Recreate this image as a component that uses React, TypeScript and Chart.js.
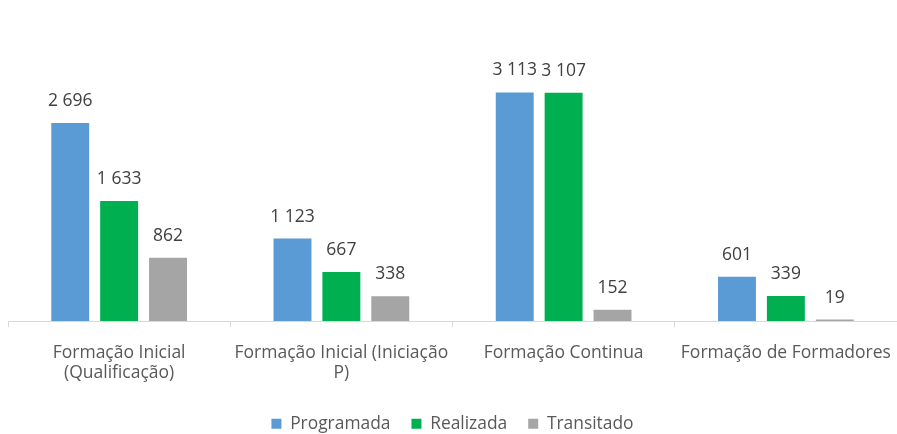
import React, { useEffect, useRef } from "react";
import { Chart, registerables } from "chart.js";

Chart.register(...registerables);

const categories: (string | string[])[] = [
  ["Formação Inicial", "(Qualificação)"],
  ["Formação Inicial (Iniciação", "P)"],
  "Formação Continua",
  "Formação de Formadores",
];
const seriesNames = ["Programada", "Realizada", "Transitado"];
const programada = [2696, 1123, 3113, 601];
const realizada = [1633, 667, 3107, 339];
const transitado = [862, 338, 152, 19];
const colors = ["#5B9BD5", "#00B050", "#A5A5A5"];

const FONT = "'Open Sans', sans-serif";

const fmt = (v: number) => String(v).replace(/\B(?=(\d{3})+(?!\d))/g, " ");

const labelPlugin = {
  id: "valueLabels",
  afterDatasetsDraw(chart: any) {
    const ctx = chart.ctx;
    ctx.save();
    ctx.font = `17.5px ${FONT}`;
    ctx.fillStyle = "#404040";
    ctx.textAlign = "center";
    ctx.textBaseline = "middle";
    chart.data.datasets.forEach((ds: any, i: number) => {
      const meta = chart.getDatasetMeta(i);
      meta.data.forEach((bar: any, j: number) => {
        ctx.fillText(fmt(ds.data[j]), bar.x, bar.y - 22);
      });
    });
    ctx.restore();
  },
};

export default function App() {
  const ref = useRef<HTMLCanvasElement>(null);
  useEffect(() => {
    if (!ref.current) return;
    const chart = new Chart(ref.current, {
      type: "bar",
      data: {
        labels: categories,
        datasets: [programada, realizada, transitado].map((d, i) => ({
          label: seriesNames[i],
          data: d,
          backgroundColor: colors[i],
          categoryPercentage: 0.66,
          barPercentage: 0.776,
        })),
      },
      options: {
        animation: false,
        responsive: false,
        maintainAspectRatio: false,
        layout: { padding: { top: 64, left: 8, right: 0, bottom: -8.5 } },
        scales: {
          x: {
            afterFit: (scale: any) => {
              scale.height = 73.1;
              scale.paddingLeft = 0;
              scale.paddingRight = 0;
            },
            grid: {
              display: true,
              drawOnChartArea: false,
              drawTicks: true,
              tickLength: 6,
              color: "#D9D9D9",
              offset: true,
            },
            border: { display: true, color: "#D9D9D9", width: 1 },
            ticks: {
              color: "#595959",
              font: { family: FONT, size: 17.5, lineHeight: 1.15 },
              maxRotation: 0,
              autoSkip: false,
              padding: 16,
            },
          },
          y: { display: false, min: 0, max: 3500 },
        },
        plugins: {
          legend: {
            position: "bottom",
            labels: {
              boxWidth: 10,
              boxHeight: 10,
              color: "#595959",
              font: { family: FONT, size: 17.4 },
              padding: 21,
            },
          },
          tooltip: { enabled: false },
        },
      },
      plugins: [labelPlugin],
    });
    return () => chart.destroy();
  }, []);
  return (
    <div style={{ position: "fixed", left: 0, top: 0, width: 897, height: 434, background: "#fff" }}>
      <canvas ref={ref} width={897} height={434} />
    </div>
  );
}
